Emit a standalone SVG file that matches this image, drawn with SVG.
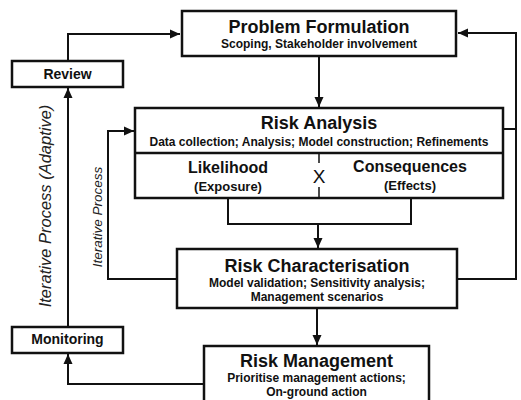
<svg xmlns="http://www.w3.org/2000/svg" width="521" height="400" viewBox="0 0 521 400">
<defs>
<marker id="ah" markerUnits="userSpaceOnUse" markerWidth="10" markerHeight="10" viewBox="0 0 10 10" refX="10" refY="5" orient="auto"><path d="M0,0.5 L10,5 L0,9.5 z" fill="#111"/></marker>
<style>
.box{fill:#fff;stroke:#111;stroke-width:2.5}
.ln{fill:none;stroke:#111;stroke-width:2}
.dv{fill:none;stroke:#111;stroke-width:1.5}
text{font-family:"Liberation Sans",Arial,sans-serif;fill:#111;text-anchor:middle}
.t{font-size:18px;font-weight:bold}
.s{font-size:12px;font-weight:bold}
.m{font-size:14px;font-weight:bold}
.lc{font-size:16px;font-weight:bold}
.lp{font-size:13px;font-weight:bold}
.x{font-size:19px}
.it{font-style:italic;fill:#222}
</style>
</defs>
<rect x="0" y="0" width="521" height="400" fill="#fff"/>
<g id="connectors">
<polyline class="ln" points="68,61 68,34 180,34" marker-end="url(#ah)"/>
<line class="ln" x1="319" y1="56" x2="319" y2="107" marker-end="url(#ah)"/>
<line class="ln" x1="503" y1="129" x2="516" y2="129"/>
<polyline class="ln" points="457,279 516,279 516,33 458,33" marker-end="url(#ah)"/>
<polyline class="ln" points="177,279 108,279 108,131 134,131" marker-end="url(#ah)"/>
<polyline class="ln" points="228,198 228,224 411,224 411,198"/>
<line class="ln" x1="318" y1="224" x2="318" y2="248" marker-end="url(#ah)"/>
<line class="ln" x1="317" y1="308" x2="317" y2="345" marker-end="url(#ah)"/>
<polyline class="ln" points="204,384 68,384 68,354" marker-end="url(#ah)"/>
<line class="ln" x1="68" y1="327" x2="68" y2="88" marker-end="url(#ah)"/>
<text class="it" font-size="16.5" transform="translate(51,206) rotate(-90)">Iterative Process (Adaptive)</text>
<text class="it" font-size="13.5" transform="translate(102,217) rotate(-90)">Iterative Process</text>
</g>
<g id="problem-formulation">
<rect class="box" x="182" y="11" width="274" height="45"/>
<text class="t" x="319" y="33" font-size="18.5">Problem Formulation</text>
<text class="s" x="319" y="48">Scoping, Stakeholder involvement</text>
</g>
<g id="review">
<rect class="box" x="12" y="61" width="111" height="26"/>
<text class="m" x="67.5" y="79">Review</text>
</g>
<g id="risk-analysis">
<rect class="box" x="135" y="108" width="368" height="90"/>
<line class="box" x1="135" y1="153" x2="503" y2="153"/>
<text class="t" x="319" y="128.5">Risk Analysis</text>
<text class="s" x="319" y="145.5">Data collection; Analysis; Model construction; Refinements</text>
<line class="dv" x1="319" y1="153" x2="319" y2="163"/>
<line class="dv" x1="319" y1="187" x2="319" y2="198"/>
<text class="x" x="319" y="183">X</text>
<text class="lc" x="228" y="172.5">Likelihood</text>
<text class="lp" x="228" y="191">(Exposure)</text>
<text class="lc" x="410" y="172">Consequences</text>
<text class="lp" x="410" y="190">(Effects)</text>
</g>
<g id="risk-characterisation">
<rect class="box" x="177" y="249" width="280" height="59"/>
<text class="t" x="317" y="271.5">Risk Characterisation</text>
<text class="s" x="317" y="287">Model validation; Sensitivity analysis;</text>
<text class="s" x="317" y="300.5">Management scenarios</text>
</g>
<g id="monitoring">
<rect class="box" x="12" y="327" width="111" height="26"/>
<text class="m" x="67.5" y="344">Monitoring</text>
</g>
<g id="risk-management">
<rect class="box" x="204" y="346" width="225" height="60"/>
<text class="t" x="316.5" y="366.5">Risk Management</text>
<text class="s" x="316.5" y="381.5">Prioritise management actions;</text>
<text class="s" x="316.5" y="395.5">On-ground action</text>
</g>
</svg>
